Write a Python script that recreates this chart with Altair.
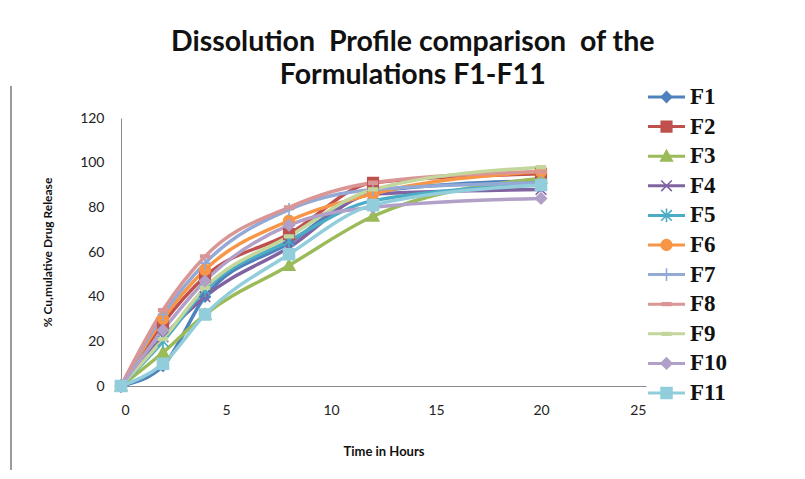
import altair as alt
import pandas as pd

# Sampling times (hours)
hours = [0, 2, 4, 8, 12, 20]

formulations = ["F1", "F2", "F3", "F4", "F5", "F6", "F7", "F8", "F9", "F10", "F11"]

# % cumulative drug release for each formulation at the sampling times
F1 = [0, 9, 40, 64, 87, 92]
F2 = [0, 28, 49, 68, 91, 95]
F3 = [0, 15, 32, 54, 76, 93]
F4 = [0, 22, 40, 62, 86, 88]
F5 = [0, 20, 43, 65, 83, 90]
F6 = [0, 30, 52, 74, 86, 96]
F7 = [0, 32, 55, 79, 88, 91]
F8 = [0, 34, 58, 80, 91, 96]
F9 = [0, 21, 44, 67, 88, 98]
F10 = [0, 25, 47, 72, 80, 84]
F11 = [0, 10, 32, 59, 81, 90]

release = {"F1": F1, "F2": F2, "F3": F3, "F4": F4, "F5": F5, "F6": F6,
           "F7": F7, "F8": F8, "F9": F9, "F10": F10, "F11": F11}

colors = ["#4F81BD", "#C0504D", "#9BBB59", "#8064A2", "#4BACC6", "#F79646",
          "#93A9D6", "#DA9694", "#C3D69B", "#B1A0C7", "#92CDDC"]

# Marker glyphs (SVG paths in unit coordinates)
diamond = "M-1,0L0,-1L1,0L0,1Z"
square = "M-1,-1L1,-1L1,1L-1,1Z"
triangle = "M0,-1.1L1.1,0.9L-1.1,0.9Z"
xmark = "M-1,-1L1,1M-1,1L1,-1"
star = "M-1,-1L1,1M-1,1L1,-1M0,-1.3L0,1.3"
circle = "M1,0A1,1,0,1,1,-1,0A1,1,0,1,1,1,0Z"
plus = "M-1,0L1,0M0,-1.2L0,1.2"
vtick = "M0,-1.2L0,1.2"
dash = "M-0.8,-0.25L0.8,-0.25L0.8,0.25L-0.8,0.25Z"

marker_paths = [diamond, square, triangle, xmark, star, circle, plus, dash, dash, diamond, square]
legend_paths = [diamond, square, triangle, xmark, star, circle, vtick, dash, dash, diamond, square]
marker_sizes = [110, 120, 130, 110, 120, 120, 110, 90, 90, 130, 170]

rows = [{"Time": t, "Release": v, "Formulation": f}
        for f in formulations for t, v in zip(hours, release[f])]
df = pd.DataFrame(rows)
legend_df = pd.DataFrame({"Formulation": formulations})

color_scale = alt.Scale(domain=formulations, range=colors)
shape_scale = alt.Scale(domain=formulations, range=marker_paths)
legend_shape_scale = alt.Scale(domain=formulations, range=legend_paths)
size_scale = alt.Scale(domain=formulations, range=marker_sizes)

x_enc = alt.X(
    "Time:Q",
    scale=alt.Scale(domain=[0, 25], nice=False),
    axis=alt.Axis(
        values=[0, 5, 10, 15, 20, 25], title="Time in Hours", grid=False,
        ticks=False, labelPadding=17, titlePadding=28, domainColor="#8c8c8c",
        labelFont="Lato", labelFontSize=14, labelColor="#222222",
        titleFont="Lato", titleFontSize=13, titleFontWeight="bold", titleColor="#111111",
    ),
)
y_enc = alt.Y(
    "Release:Q",
    scale=alt.Scale(domain=[0, 120], nice=False),
    axis=alt.Axis(
        values=[0, 20, 40, 60, 80, 100, 120], title="% Cu,mulative Drug Release", grid=False,
        ticks=False, labelPadding=17, titlePadding=25, domainColor="#8c8c8c",
        labelFont="Lato", labelFontSize=14, labelColor="#222222",
        titleFont="Lato", titleFontSize=12, titleFontWeight="bold", titleColor="#111111",
    ),
)

lines = alt.Chart(df).mark_line(interpolate="monotone", strokeWidth=3.5).encode(
    x=x_enc, y=y_enc,
    color=alt.Color("Formulation:N", scale=color_scale, legend=None),
)

points = alt.Chart(df).mark_point(filled=True, opacity=1, strokeWidth=1.6).encode(
    x=x_enc, y=y_enc,
    fill=alt.Fill("Formulation:N", scale=color_scale, legend=None),
    stroke=alt.Stroke("Formulation:N", scale=color_scale, legend=None),
    shape=alt.Shape("Formulation:N", scale=shape_scale, legend=None),
    size=alt.Size("Formulation:N", scale=size_scale, legend=None),
)

# Thin frame line along the left edge of the chart area
frame_edge = alt.Chart(legend_df).mark_rule(color="#9a9a9a", strokeWidth=1).encode(
    x=alt.value(-110), y=alt.value(-32), y2=alt.value(352),
)

main = alt.layer(frame_edge, lines, points).properties(width=525, height=268)

# Legend panel: a line sample with its marker, then the name
leg_y = alt.Y("Formulation:N", sort=formulations,
              scale=alt.Scale(domain=formulations, range=[-35.8, 289.8]), axis=None)

leg_lines = alt.Chart(legend_df).mark_rule(strokeWidth=3).encode(
    x=alt.value(1), x2=alt.value(38), y=leg_y,
    color=alt.Color("Formulation:N", scale=color_scale, legend=None),
)
leg_points = alt.Chart(legend_df).mark_point(filled=True, opacity=1, strokeWidth=1.6).encode(
    x=alt.value(19.5), y=leg_y,
    fill=alt.Fill("Formulation:N", scale=color_scale, legend=None),
    stroke=alt.Stroke("Formulation:N", scale=color_scale, legend=None),
    shape=alt.Shape("Formulation:N", scale=legend_shape_scale, legend=None),
    size=alt.Size("Formulation:N", scale=size_scale, legend=None),
)
leg_text = alt.Chart(legend_df).mark_text(
    align="left", baseline="middle", font="Liberation Serif", fontWeight="bold",
    fontSize=23, color="#111111",
).encode(x=alt.value(43), y=leg_y, text="Formulation:N")

legend = alt.layer(leg_lines, leg_points, leg_text).properties(width=110, height=268)

gap = "\u00a0"
chart = alt.hconcat(main, legend, spacing=0).properties(
    title=alt.TitleParams(
        ["Dissolution" + gap + " Profile comparison" + gap + " of the", "Formulations F1-F11"],
        font="Lato", fontSize=28.5, fontWeight="bold", color="#111111",
        anchor="middle", lineHeight=33, offset=-4, dx=29,
    ),
    padding={"left": 10, "top": 28, "right": 5, "bottom": 5},
    background="white",
).configure_view(stroke=None)

chart.save("out.html", embed_options={"renderer": "svg", "actions": False})
